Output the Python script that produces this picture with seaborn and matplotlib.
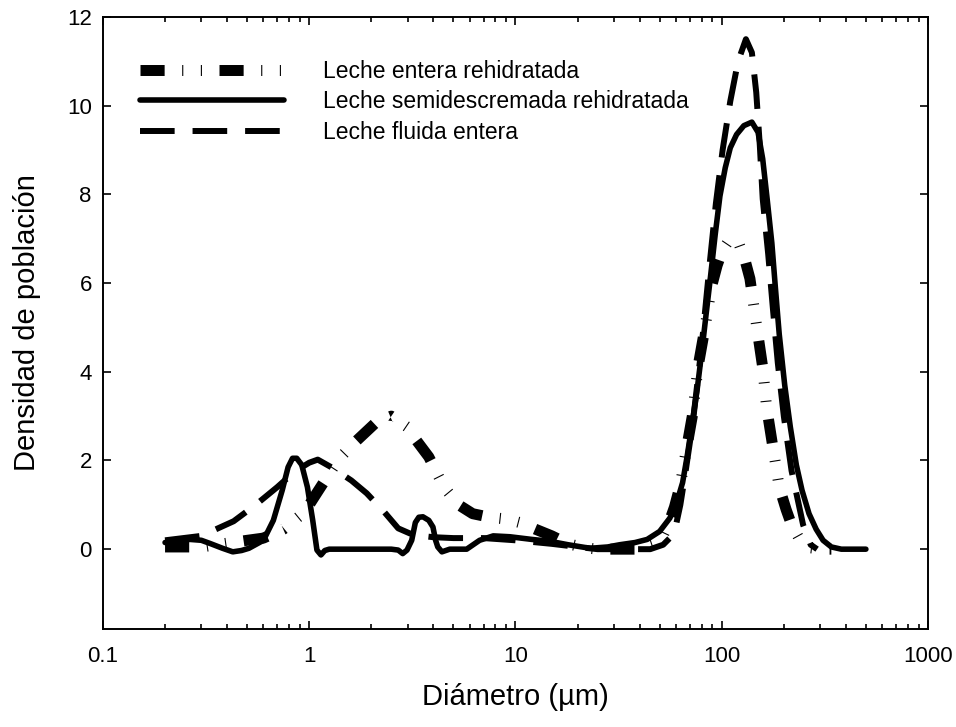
import matplotlib
matplotlib.use("Agg")
import matplotlib.pyplot as plt
import matplotlib.ticker as mticker
import seaborn as sns
import pandas as pd

# particle size distribution of three milk samples
diam_entera = [0.2, 0.3, 0.38, 0.5, 0.6, 0.75, 0.9, 1.0, 1.1, 1.25, 1.4, 1.7, 2.1, 2.5, 3.0, 3.3,
               3.8, 4.5, 5.3, 6.2, 7.5, 9.0, 10.5, 12.5, 15, 18, 22, 25, 30, 40, 50, 55, 59, 63,
               68, 72, 77, 83, 89, 95, 101, 108, 115, 122, 130, 137, 148, 158, 165, 177, 190,
               205, 218, 240, 270, 306, 340]
dens_entera = [0.05, 0.05, 0.12, 0.2, 0.25, 0.45, 0.75, 1.0, 1.3, 1.7, 2.05, 2.45, 2.85, 3.0, 2.75, 2.46,
               2.08, 1.4, 1.0, 0.8, 0.72, 0.68, 0.6, 0.45, 0.3, 0.12, 0.03, 0.0, 0.0, 0.0, 0.15, 0.55, 0.95, 1.45,
               2.35, 3.0, 4.15, 5.0, 5.9, 6.4, 6.75, 6.95, 7.0, 6.85, 6.5, 6.1, 5.0, 4.1, 3.2, 2.3, 1.4,
               0.9, 0.55, 0.2, 0.03, 0.0, 0.0]

diam_semi = [0.2, 0.23, 0.264, 0.3, 0.33, 0.38, 0.426, 0.47, 0.51, 0.6, 0.67, 0.74, 0.79, 0.83, 0.87,
             0.92, 0.98, 1.04, 1.09, 1.14, 1.19, 1.25, 1.5, 2.0, 2.5, 2.7, 2.84, 2.98, 3.14, 3.27, 3.4,
             3.56, 3.8, 3.98, 4.1, 4.2, 4.4, 4.8, 5.8, 6.7, 7.8, 9.4, 12, 14.6, 18, 23, 28, 32, 38, 43.5,
             50, 56, 60, 64.6, 68, 71.5, 76, 80, 84, 88, 93, 98, 104, 110, 118, 128, 140, 150, 158, 166,
             175, 182, 190, 202, 215, 230, 245, 265, 287, 310, 340, 380, 500]
dens_semi = [0.15, 0.2, 0.22, 0.2, 0.13, 0.02, -0.06, -0.03, 0.02, 0.2, 0.65, 1.33, 1.85, 2.05, 2.05,
             1.9, 1.4, 0.65, -0.02, -0.13, -0.03, 0.0, 0.0, 0.0, 0.0, -0.02, -0.1, -0.02, 0.2, 0.6, 0.72,
             0.73, 0.65, 0.5, 0.2, 0.05, -0.06, 0.0, 0.0, 0.2, 0.3, 0.28, 0.22, 0.18, 0.1, 0.02, 0.05, 0.1, 0.15, 0.22,
             0.4, 0.7, 1.0, 1.5, 2.1, 2.76, 3.6, 4.44, 5.3, 6.1, 7.1, 7.96, 8.6, 9.05, 9.35, 9.55, 9.63, 9.4, 8.8, 7.9,
             6.9, 5.9, 4.85, 3.7, 2.76, 1.9, 1.33, 0.8, 0.45, 0.2, 0.05, 0.0, 0.0]

diam_fluida = [0.2, 0.3, 0.43, 0.55, 0.7, 0.85, 1.0, 1.1, 1.3, 1.6, 1.9, 2.3, 2.7, 3.2, 4.0, 5.0, 7.0,
               10, 15, 20, 25, 35, 45, 52, 56, 59.3, 63, 66.4, 72.4, 80, 87.7, 93.7, 101, 110, 120,
               131, 140, 147, 153, 158, 168, 177, 187, 200, 218, 248, 270, 290]
dens_fluida = [0.2, 0.3, 0.63, 1.0, 1.4, 1.75, 1.95, 2.02, 1.83, 1.55, 1.26, 0.85, 0.47, 0.32, 0.27, 0.25, 0.25,
               0.2, 0.12, 0.05, 0.0, 0.0, 0.0, 0.1, 0.25, 0.43, 1.0, 1.67, 2.85, 4.6, 6.5, 7.8, 9.0, 10.1, 11.0,
               11.5, 11.2, 10.3, 9.1, 7.9, 6.65, 5.43, 4.2, 3.0, 1.77, 0.55, 0.1, 0.0]

df_entera = pd.DataFrame({"d": diam_entera, "n": dens_entera})
df_semi = pd.DataFrame({"d": diam_semi, "n": dens_semi})
df_fluida = pd.DataFrame({"d": diam_fluida, "n": dens_fluida})

sns.set_style("ticks")
plt.rcParams["font.family"] = ["Liberation Sans", "DejaVu Sans"]
plt.rcParams["text.color"] = "black"
plt.rcParams["axes.labelcolor"] = "black"
plt.rcParams["xtick.color"] = "black"
plt.rcParams["ytick.color"] = "black"

fig = plt.figure(figsize=(9.56, 7.27), dpi=100)
ax = fig.add_axes([0.1077, 0.1348, 0.863, 0.8418])

sns.lineplot(x="d", y="n", data=df_entera, ax=ax, color="black", lw=7.9,
             estimator=None, sort=False, label="Leche entera rehidratada")
ax.lines[-1].set_linestyle((0, (2.2, 1.6, 0.1, 1.6, 0.1, 1.6)))
ax.lines[-1].set_dash_capstyle("butt")
sns.lineplot(x="d", y="n", data=df_semi, ax=ax, color="black", lw=4.0,
             estimator=None, sort=False, label="Leche semidescremada rehidratada")
sns.lineplot(x="d", y="n", data=df_fluida, ax=ax, color="black", lw=4.3,
             estimator=None, sort=False, label="Leche fluida entera")
ax.lines[-1].set_linestyle((0, (5.8, 3.0)))
ax.lines[-1].set_dash_capstyle("butt")

ax.set_xscale("log")
ax.set_xlim(0.1, 1000)
ax.set_ylim(-1.8, 12)
ax.set_xticks([0.1, 1, 10, 100, 1000])
ax.set_xticklabels(["0.1", "1", "10", "100", "1000"])
ax.xaxis.set_minor_formatter(mticker.NullFormatter())
ax.set_yticks([0, 2, 4, 6, 8, 10, 12])

for s in ax.spines.values():
    s.set_visible(True)
    s.set_linewidth(1.4)
    s.set_color("black")
ax.tick_params(which="both", direction="in", top=True, right=True, width=1.2, color="black")
ax.tick_params(which="major", length=6, labelsize=16, labelcolor="black")
ax.tick_params(axis="x", which="major", pad=12)
ax.tick_params(axis="y", which="major", pad=8)
ax.tick_params(which="minor", length=3.5)

ax.set_xlabel("Diámetro (µm)", fontsize=21)
ax.set_ylabel("Densidad de población", fontsize=21)
ax.xaxis.set_label_coords(0.5, -0.088)
ax.yaxis.set_label_coords(-0.075, 0.5)

ax.legend(loc="upper left", bbox_to_anchor=(0.045, 0.93), frameon=False, fontsize=16.5,
          handlelength=6.3, handletextpad=1.66, labelspacing=0.33, borderpad=0, borderaxespad=0)

fig.savefig("out.png", dpi=100)
